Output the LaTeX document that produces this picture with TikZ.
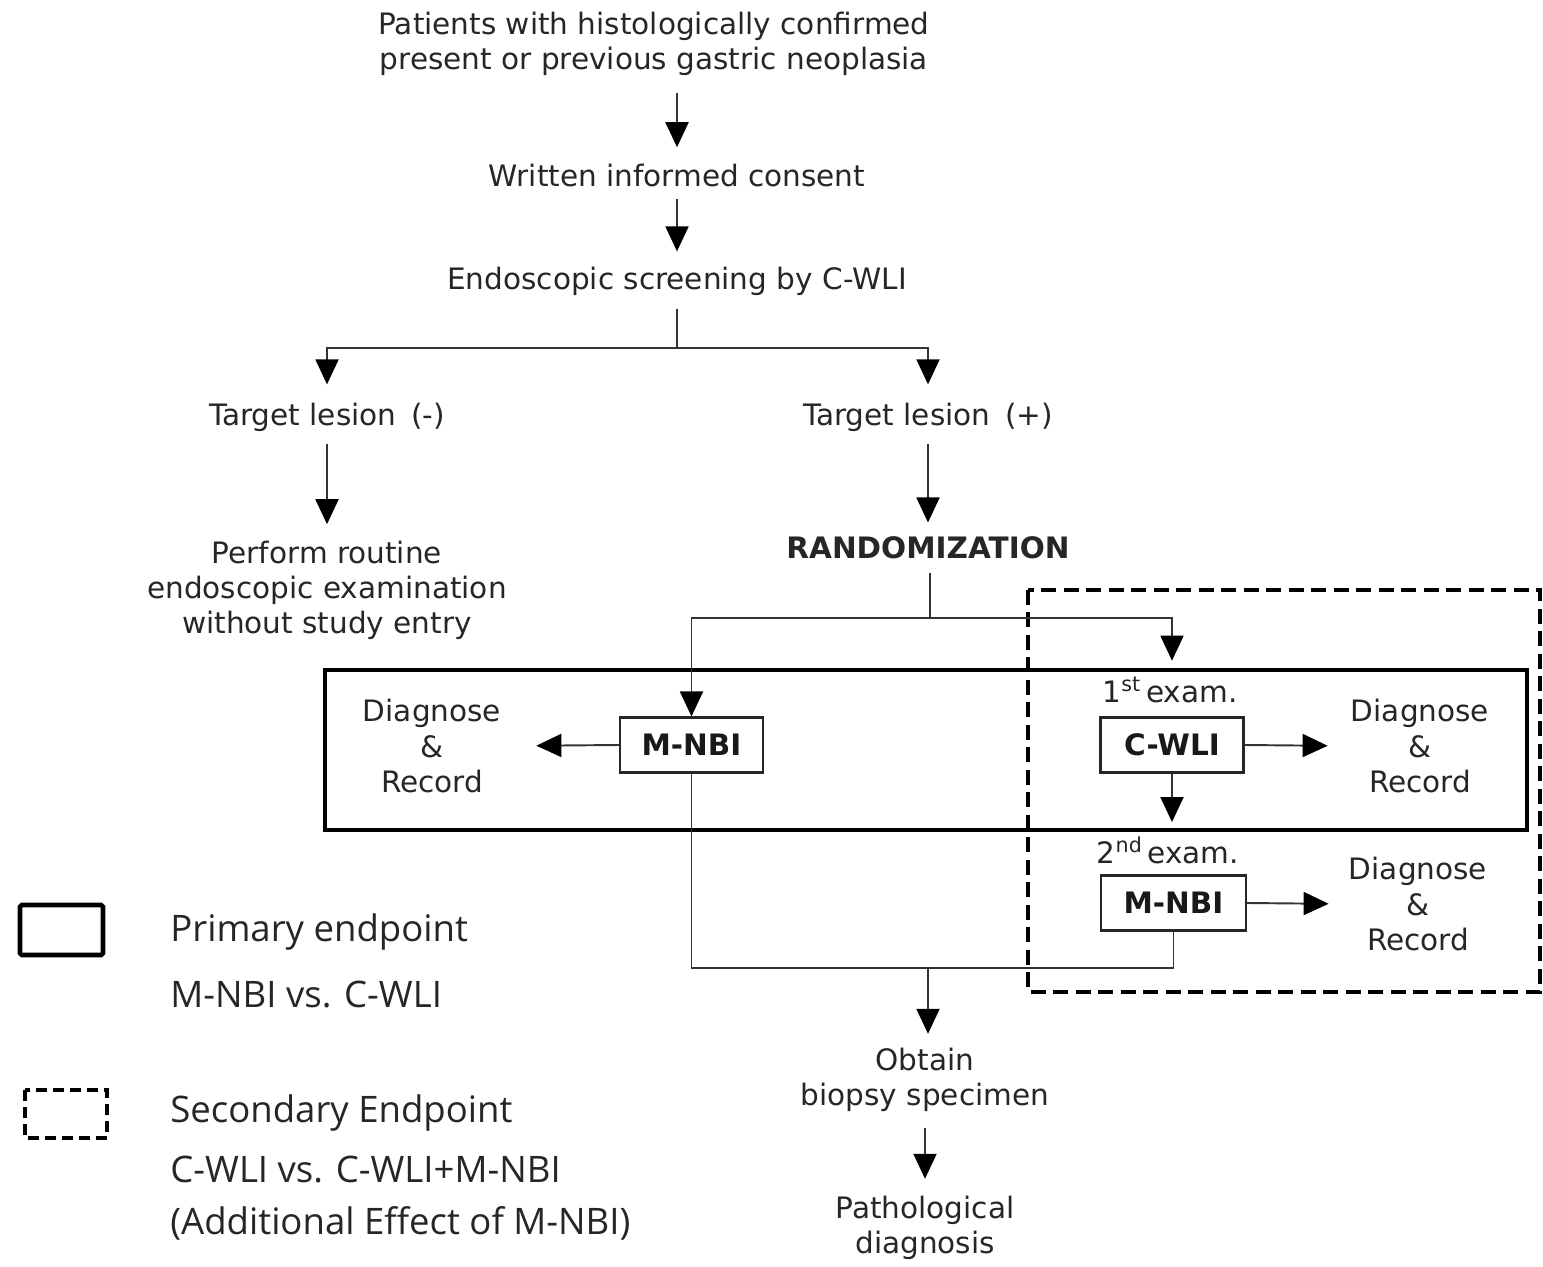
\documentclass[tikz,border=0pt]{standalone}
\usepackage{fontspec}
\setmainfont{DejaVu Sans}
\newfontfamily\legfont{Open Sans}
\usetikzlibrary{arrows.meta}
\begin{document}
\begin{tikzpicture}[x=0.02cm,y=-0.02cm,
  txt/.style={inner sep=0pt, align=center, text=black!85, font=\fontsize{16.8}{20}\selectfont},
  boxn/.style={draw=black!85, line width=1.2pt, minimum width=2.86cm, minimum height=1.1cm, inner sep=0pt, font=\fontsize{16.8}{20}\selectfont\bfseries, text=black!90},
  ln/.style={draw=black!80, line width=1.1pt},
  arr/.style={ln, -{Triangle[length=0.5cm,width=0.46cm,color=black]}},
  leg/.style={inner sep=0pt, anchor=west, text=black!85, font=\legfont\fontsize{20.8}{24}\selectfont},
  primbox/.style={draw=black, line width=2.6pt},
  secbox/.style={draw=black, line width=2.6pt, dash pattern=on 0.3cm off 0.15cm}]
\useasboundingbox (0,0) rectangle (1543,1267);

% endpoint regions
\draw[primbox] (325,670) rectangle (1527,830);
\draw[secbox] (1028,590) rectangle (1540,992);

% text nodes
\node[txt] (pat) at (654,44) {Patients with histologically confirmed\\present or previous gastric neoplasia};
\node[txt] (cons) at (677,175) {Written informed consent};
\node[txt] (scr) at (677,281) {Endoscopic screening by C-WLI};
\node[txt] (tneg) at (327,417) {Target lesion\enspace(-)};
\node[txt] (tpos) at (928,417) {Target lesion\enspace(+)};
\node[txt] (perf) at (327,590) {Perform routine\\endoscopic examination\\without study entry};
\node[txt, font=\fontsize{16.8}{20}\selectfont\bfseries] (rand) at (928,548) {RANDOMIZATION};

\node[boxn] (mL) at (691.5,745) {M-NBI};
\node[txt] (dL) at (432,746) {Diagnose\\\&\\Record};
\node[txt] (ex1) at (1170,690) {1\textsuperscript{st}\,exam.};
\node[boxn] (c1) at (1172,745) {C-WLI};
\node[txt] (dR1) at (1420,746) {Diagnose\\\&\\Record};
\node[txt] (ex2) at (1168,850) {2\textsuperscript{nd}\,exam.};
\node[boxn, minimum width=2.9cm] (m2) at (1173.5,903) {M-NBI};
\node[txt] (dR2) at (1418,904) {Diagnose\\\&\\Record};

\node[txt] (obt) at (925,1080) {Obtain\\biopsy specimen};
\node[txt] (path) at (925,1228) {Pathological\\diagnosis};

% connectors
\draw[arr, shorten <=0.34cm, shorten >=0.32cm] (pat.south -| cons.north) -- (cons.north);
\draw[arr, shorten <=0.24cm, shorten >=0.3cm] (cons.south) -- (scr.north);
\coordinate (br) at (677,348);
\draw[ln, shorten <=0.26cm] (scr.south) -- (br);
\draw[arr, shorten >=0.36cm] (br) -| (tneg.north);
\draw[arr, shorten >=0.36cm] (br) -| (tpos.north);
\draw[arr, shorten <=0.24cm, shorten >=0.32cm] (tneg.south) -- (perf.north);
\draw[arr, shorten <=0.24cm, shorten >=0.28cm] (tpos.south) -- (rand.north);

\coordinate (rb) at (930,618);
\draw[ln, shorten <=0.26cm] (rand.south -| rb) -- (rb);
\draw[arr] (rb) -| (mL.north);
\draw[arr, shorten >=0.32cm] (rb) -| (ex1.north -| c1.north);

\draw[arr, shorten >=0.7cm] (mL.west) -- (dL.east);
\draw[arr, shorten >=0.46cm] (c1.east) -- (dR1.west);
\draw[arr, shorten >=0.28cm] (c1.south) -- (ex2.north -| c1.south);
\draw[arr, shorten >=0.4cm] (m2.east) -- (dR2.west);

\coordinate (jn) at (928,968);
\draw[ln] (mL.south) -- (mL.south |- jn) -- (m2.south |- jn) -- (m2.south);
\draw[arr, shorten >=0.28cm] (jn) -- (jn |- obt.north);
\draw[arr, shorten <=0.32cm, shorten >=0.34cm] (obt.south) -- (path.north);

% legend
\draw[primbox, rounded corners=1pt] (20,905) rectangle (103,955);
\draw[draw=black, line width=2.6pt, dash pattern=on 0.22cm off 0.12cm] (25,1090) rectangle (107,1138);
\node[leg] (l1) at (170,932) {Primary endpoint};
\node[leg] (l2) at (170,995) {M-NBI vs. C-WLI};
\node[leg] (l3) at (170,1113) {Secondary Endpoint};
\node[leg] (l4) at (170,1170) {C-WLI vs. C-WLI+M-NBI};
\node[leg] (l5) at (170,1223) {(Additional Effect of M-NBI)};
\end{tikzpicture}
\end{document}
